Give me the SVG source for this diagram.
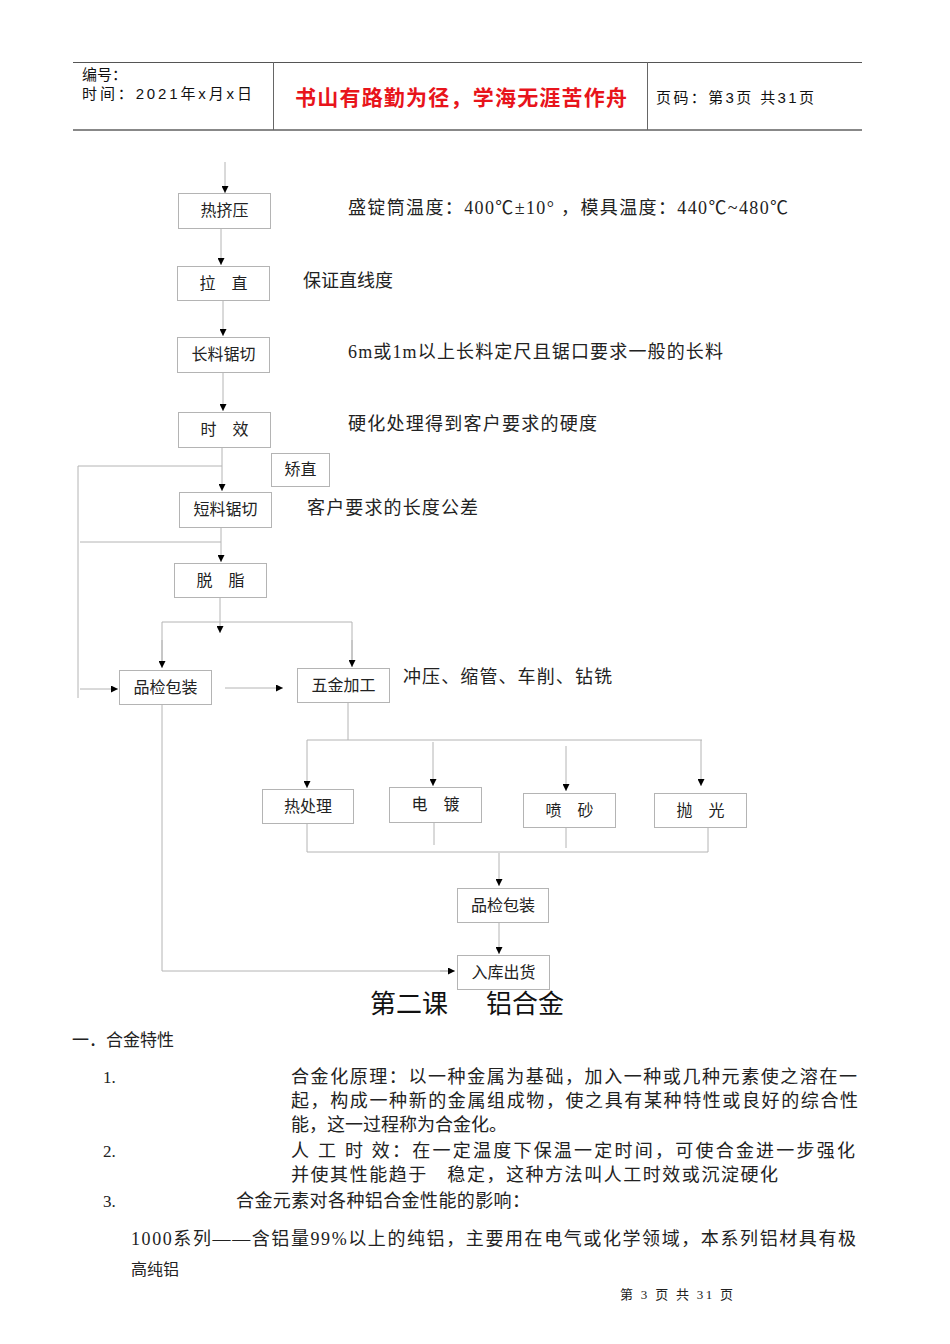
<svg xmlns="http://www.w3.org/2000/svg" width="950" height="1344" viewBox="0 0 950 1344">
<style>
.box{fill:#fff;stroke:#b4b4b4;stroke-width:1}
.ln{fill:none;stroke:#b4b4b4;stroke-width:1}
.bt{font-family:"Liberation Serif","Noto Sans CJK SC",serif;font-size:16px;fill:#222;text-anchor:middle}
.tx{font-family:"Liberation Serif","Noto Sans CJK SC",serif;font-size:18px;fill:#222}
.hd{font-family:"Liberation Sans","Noto Sans CJK SC",sans-serif;font-size:15px;fill:#111}
</style>
<defs>
<marker id="ar" viewBox="0 0 10 10" refX="10" refY="5" markerWidth="9" markerHeight="7" markerUnits="userSpaceOnUse" orient="auto">
<path d="M0,0 L10,5 L0,10 z" fill="#000"/>
</marker>
</defs>
<rect width="950" height="1344" fill="#fff"/>

<g id="header">
<line x1="73" y1="62.5" x2="862" y2="62.5" stroke="#555" stroke-width="1"/>
<line x1="73" y1="130" x2="862" y2="130" stroke="#888" stroke-width="2"/>
<line x1="273.5" y1="62" x2="273.5" y2="130" stroke="#666" stroke-width="1"/>
<line x1="647.5" y1="62" x2="647.5" y2="130" stroke="#666" stroke-width="1"/>
<text class="hd" x="82" y="80">编号：</text>
<text class="hd" x="82" y="99" textLength="170">时间：2021年x月x日</text>
<text x="295" y="105" font-family="'Noto Sans CJK SC',sans-serif" font-size="21" font-weight="bold" fill="#e8141b" textLength="332">书山有路勤为径，学海无涯苦作舟</text>
<text class="hd" x="656" y="103" textLength="158">页码：第3页 共31页</text>
</g>

<g id="connectors">
<line class="ln" x1="225" y1="162" x2="225" y2="193" marker-end="url(#ar)"/>
<line class="ln" x1="221" y1="228" x2="221" y2="265" marker-end="url(#ar)"/>
<line class="ln" x1="223" y1="300" x2="223" y2="336" marker-end="url(#ar)"/>
<line class="ln" x1="223" y1="372" x2="223" y2="411" marker-end="url(#ar)"/>
<line class="ln" x1="222" y1="447" x2="222" y2="491" marker-end="url(#ar)"/>
<polyline class="ln" points="222,466 78,466 78,698"/>
<line class="ln" x1="221" y1="527" x2="221" y2="562" marker-end="url(#ar)"/>
<line class="ln" x1="80" y1="542" x2="221" y2="542"/>
<line class="ln" x1="220" y1="597" x2="220" y2="633" marker-end="url(#ar)"/>
<polyline class="ln" points="162,667 162,622 352,622 352,667"/>
<line class="ln" x1="162" y1="640" x2="162" y2="668" marker-end="url(#ar)"/>
<line class="ln" x1="352" y1="640" x2="352" y2="667" marker-end="url(#ar)"/>
<line class="ln" x1="80" y1="689" x2="118" y2="689" marker-end="url(#ar)"/>
<line class="ln" x1="225" y1="688" x2="283" y2="688" marker-end="url(#ar)"/>
<line class="ln" x1="348" y1="702" x2="348" y2="740"/>
<line class="ln" x1="307" y1="740" x2="702" y2="740"/>
<line class="ln" x1="307" y1="740" x2="307" y2="788" marker-end="url(#ar)"/>
<line class="ln" x1="433" y1="742" x2="433" y2="786" marker-end="url(#ar)"/>
<line class="ln" x1="566" y1="746" x2="566" y2="791" marker-end="url(#ar)"/>
<line class="ln" x1="701" y1="740" x2="701" y2="786" marker-end="url(#ar)"/>
<line class="ln" x1="307" y1="823" x2="307" y2="852"/>
<line class="ln" x1="434" y1="820" x2="434" y2="845"/>
<line class="ln" x1="566" y1="826" x2="566" y2="848"/>
<line class="ln" x1="708" y1="827" x2="708" y2="852"/>
<line class="ln" x1="307" y1="852" x2="708" y2="852"/>
<line class="ln" x1="499" y1="853" x2="499" y2="886" marker-end="url(#ar)"/>
<line class="ln" x1="499" y1="922" x2="499" y2="954" marker-end="url(#ar)"/>
<polyline class="ln" points="162,704 162,971 454,971" stroke-width="1.5"/>
<line class="ln" x1="440" y1="971" x2="455" y2="971" marker-end="url(#ar)"/>
</g>

<g id="n-rejiya"><rect class="box" x="178.5" y="193.5" width="92" height="35"/><text class="bt" x="224.5" y="216">热挤压</text></g>
<g id="n-lazhi"><rect class="box" x="177.5" y="266.5" width="92" height="34"/><text class="bt" x="223.5" y="289">拉　直</text></g>
<g id="n-changliao"><rect class="box" x="177.5" y="337.5" width="92" height="35"/><text class="bt" x="223.5" y="360">长料锯切</text></g>
<g id="n-shixiao"><rect class="box" x="178.5" y="412.5" width="92" height="35"/><text class="bt" x="224.5" y="435">时　效</text></g>
<g id="n-jiaozhi"><rect class="box" x="271.5" y="453.5" width="58" height="33"/><text class="bt" x="300.5" y="475">矫直</text></g>
<g id="n-duanliao"><rect class="box" x="179.5" y="492.5" width="92" height="35"/><text class="bt" x="225.5" y="515">短料锯切</text></g>
<g id="n-tuozhi"><rect class="box" x="174.5" y="563.5" width="92" height="34"/><text class="bt" x="220.5" y="586">脱　脂</text></g>
<g id="n-pinjian1"><rect class="box" x="119.5" y="670.5" width="92" height="34"/><text class="bt" x="165.5" y="693">品检包装</text></g>
<g id="n-wujin"><rect class="box" x="297.5" y="668.5" width="92" height="34"/><text class="bt" x="343.5" y="691">五金加工</text></g>
<g id="n-rechuli"><rect class="box" x="262.5" y="789.5" width="91" height="34"/><text class="bt" x="308" y="812">热处理</text></g>
<g id="n-diandu"><rect class="box" x="389.5" y="787.5" width="92" height="35"/><text class="bt" x="435.5" y="810">电　镀</text></g>
<g id="n-pensha"><rect class="box" x="523.5" y="793.5" width="92" height="34"/><text class="bt" x="569.5" y="816">喷　砂</text></g>
<g id="n-paoguang"><rect class="box" x="654.5" y="793.5" width="92" height="34"/><text class="bt" x="700.5" y="816">抛　光</text></g>
<g id="n-pinjian2"><rect class="box" x="457.5" y="888.5" width="91" height="34"/><text class="bt" x="503" y="911">品检包装</text></g>
<g id="n-ruku"><rect class="box" x="457.5" y="955.5" width="92" height="34"/><text class="bt" x="503.5" y="978">入库出货</text></g>

<g id="labels">
<text class="tx" x="348" y="214" textLength="440">盛锭筒温度：400℃±10° ，模具温度：440℃~480℃</text>
<text class="tx" x="303" y="287">保证直线度</text>
<text class="tx" x="348" y="358" textLength="375">6m或1m以上长料定尺且锯口要求一般的长料</text>
<text class="tx" x="348" y="430" textLength="249">硬化处理得到客户要求的硬度</text>
<text class="tx" x="307" y="514" textLength="171">客户要求的长度公差</text>
<text class="tx" x="403" y="683" textLength="209">冲压、缩管、车削、钻铣</text>
</g>

<g id="body">
<text x="370" y="1013" font-family="'Noto Sans CJK SC',sans-serif" font-size="26" fill="#111">第二课</text>
<text x="486" y="1013" font-family="'Noto Sans CJK SC',sans-serif" font-size="26" fill="#111">铝合金</text>
<text class="tx" x="72" y="1046" style="font-size:17px">一．合金特性</text>
<text class="tx" x="103" y="1083" style="font-size:17px">1.</text>
<text class="tx" x="291" y="1083" textLength="566">合金化原理：以一种金属为基础，加入一种或几种元素使之溶在一</text>
<text class="tx" x="291" y="1107" textLength="567">起，构成一种新的金属组成物，使之具有某种特性或良好的综合性</text>
<text class="tx" x="291" y="1131">能，这一过程称为合金化。</text>
<text class="tx" x="103" y="1157" style="font-size:17px">2.</text>
<text class="tx" x="291" y="1157" textLength="564">人 工 时 效：在一定温度下保温一定时间，可使合金进一步强化</text>
<text class="tx" x="291" y="1181" textLength="487">并使其性能趋于　稳定，这种方法叫人工时效或沉淀硬化</text>
<text class="tx" x="103" y="1207" style="font-size:17px">3.</text>
<text class="tx" x="236" y="1207" textLength="294">合金元素对各种铝合金性能的影响：</text>
<text class="tx" x="131" y="1245" textLength="725">1000系列——含铝量99%以上的纯铝，主要用在电气或化学领域，本系列铝材具有极</text>
<text class="tx" x="131" y="1275" style="font-size:16px">高纯铝</text>
<text class="tx" x="620" y="1299" style="font-size:13px" textLength="113">第 3 页 共 31 页</text>
</g>
</svg>
